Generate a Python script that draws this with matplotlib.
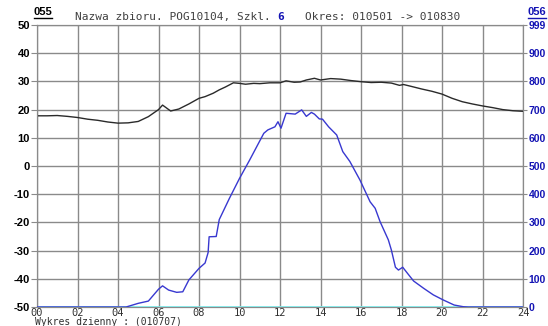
import matplotlib.pyplot as plt

# temperature (left axis, deg C)
temp_hours = [0, 0.5, 1.0, 1.5, 2.0, 2.5, 3.0, 3.5, 4.0, 4.5, 5.0, 5.5, 6.0, 6.2, 6.6, 7.0,
              7.5, 8.0, 8.3, 8.7, 9.0, 9.3, 9.7, 10.0, 10.3, 10.7, 11.0, 11.5, 12.0, 12.3,
              12.7, 13.0, 13.3, 13.7, 14.0, 14.5, 15.0, 15.5, 16.0, 16.5, 17.0, 17.5, 17.9,
              18.1, 18.5, 19.0, 19.5, 20.0, 20.5, 21.0, 21.5, 22.0, 22.5, 23.0, 23.5, 24.0]
temp_values = [17.8, 17.8, 17.9, 17.6, 17.2, 16.6, 16.2, 15.6, 15.2, 15.3, 15.8, 17.5, 20.0,
               21.6, 19.5, 20.2, 22.0, 24.0, 24.6, 25.8, 27.0, 28.0, 29.5, 29.3, 29.0, 29.3,
               29.2, 29.5, 29.5, 30.2, 29.7, 29.8, 30.5, 31.1, 30.5, 31.0, 30.8, 30.3, 29.9,
               29.6, 29.7, 29.4, 28.6, 28.9, 28.2, 27.3, 26.5, 25.5, 24.0, 22.8, 22.0, 21.3,
               20.7, 20.0, 19.6, 19.4]

# radiation (right axis)
rad_hours = [0, 4.4, 5.0, 5.5, 6.0, 6.2, 6.5, 6.9, 7.2, 7.5, 8.0, 8.3, 8.45, 8.5, 8.85, 9.0,
             9.5, 10.0, 10.5, 11.2, 11.4, 11.75, 11.9, 12.05, 12.3, 12.75, 13.07, 13.3, 13.55,
             13.7, 13.94, 14.1, 14.4, 14.8, 15.1, 15.45, 15.95, 16.45, 16.7, 16.94, 17.35,
             17.5, 17.7, 17.85, 18.06, 18.3, 18.6, 19.1, 19.57, 20.06, 20.6, 21.05, 21.3, 24]
rad_values = [0, 0, 13, 21, 63, 75, 60, 52, 54, 96, 137, 156, 193, 249, 250, 310,
              385, 456, 521, 616, 628, 639, 657, 634, 687, 684, 699, 676, 690,
              684, 667, 666, 639, 610, 551, 516, 450, 373, 350, 303, 238,
              202, 141, 131, 141, 119, 92, 66, 43, 25, 7, 1, 0, 0]

left_ticks = list(range(-50, 51, 10))
right_ticks = [0, 100, 200, 300, 400, 500, 600, 700, 800, 900, 1000]
right_labels = ['0', '100', '200', '300', '400', '500', '600', '700', '800', '900', '999']
x_ticks = list(range(0, 25, 2))
x_labels = ['%02d' % h for h in x_ticks]

blue = '#1414b4'
grid_c = '#8a8a8a'
mono = 'DejaVu Sans Mono'
lab = 'Liberation Sans'

fig = plt.figure(figsize=(5.48, 3.26), dpi=100)
ax = fig.add_axes([37 / 548, 19 / 326, 486 / 548, 282 / 326])
ax.set_xlim(0, 24)
ax.set_ylim(-50, 50)
ax.set_xticks(x_ticks)
ax.set_xticklabels(x_labels, family=mono, fontsize=7.5, color='#303030')
ax.set_yticks(left_ticks)
ax.set_yticklabels([str(v) for v in left_ticks], family=lab, fontsize=8, fontweight='bold',
                   color='black')
ax.tick_params(axis='x', length=0, pad=1)
ax.tick_params(axis='y', length=4, color=grid_c, pad=1)
ax.grid(True, color=grid_c, linewidth=1)
for s in ax.spines.values():
    s.set_color(grid_c)

ax.plot(temp_hours, temp_values, color='#2a2a2a', linewidth=1, zorder=3)

ax2 = ax.twinx()
ax2.set_ylim(0, 1000)
ax2.set_yticks(right_ticks)
ax2.set_yticklabels(right_labels, family=lab, fontsize=7.5, fontweight='bold', color=blue)
ax2.tick_params(axis='y', length=3, color=grid_c, pad=1)
for s in ax2.spines.values():
    s.set_color(grid_c)
ax2.axhline(0, color='#80f0f0', linewidth=2, zorder=1)
ax2.plot(rad_hours, rad_values, color='#3838d0', linewidth=1, zorder=3)

fig.text(34 / 548, 1 - 12 / 326, '055', family=lab, fontsize=8, fontweight='bold',
         color='black', ha='left', va='center')
fig.add_artist(plt.Line2D([34 / 548, 52 / 548], [1 - 17.5 / 326, 1 - 17.5 / 326],
                          color='black', lw=1))
fig.text(528 / 548, 1 - 12 / 326, '056', family=lab, fontsize=8, fontweight='bold',
         color=blue, ha='left', va='center')
fig.add_artist(plt.Line2D([528 / 548, 546 / 548], [1 - 17.5 / 326, 1 - 17.5 / 326],
                          color=blue, lw=1))

fig.text(75 / 548, 1 - 17 / 326, 'Nazwa zbioru. POG10104, Szkl.', family=mono, fontsize=8,
         color='#404040', ha='left', va='center')
fig.text(277 / 548, 1 - 17 / 326, '6', family=mono, fontsize=8, fontweight='bold',
         color=blue, ha='left', va='center')
fig.text(305 / 548, 1 - 17 / 326, 'Okres: 010501 -> 010830', family=mono, fontsize=8,
         color='#404040', ha='left', va='center')
fig.text(35 / 548, 1 - 317 / 326, 'Wykres dzienny : (010707)', family=mono, fontsize=7,
         color='#303030', ha='left', va='top')

fig.savefig('out.png', dpi=100)
